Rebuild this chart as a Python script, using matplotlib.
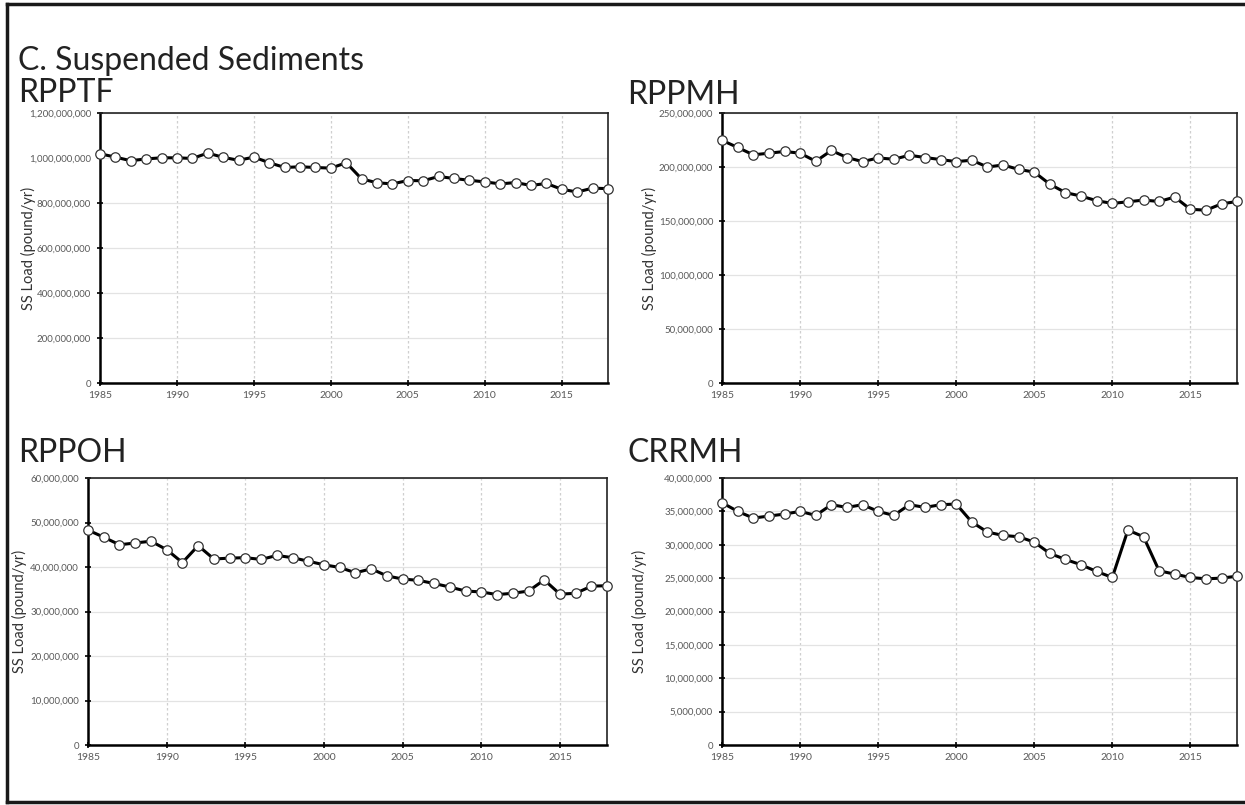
import matplotlib
matplotlib.use("Agg")
import matplotlib.pyplot as plt
from matplotlib.lines import Line2D
from matplotlib.ticker import FuncFormatter

plt.rcParams['font.family'] = ['Lato', 'DejaVu Sans']

years = list(range(1985, 2019))

rpptf = [1.019e9, 1.004e9, 0.988e9, 0.996e9, 1.001e9, 1.001e9, 0.998e9, 1.022e9, 1.003e9, 0.990e9,
         1.004e9, 0.979e9, 0.958e9, 0.961e9, 0.958e9, 0.955e9, 0.979e9, 0.907e9, 0.890e9, 0.885e9,
         0.900e9, 0.899e9, 0.918e9, 0.909e9, 0.901e9, 0.894e9, 0.885e9, 0.891e9, 0.878e9, 0.887e9,
         0.861e9, 0.849e9, 0.866e9, 0.864e9]

rppmh = [224.7e6, 218.1e6, 211.3e6, 212.8e6, 214.4e6, 212.8e6, 205.3e6, 215.3e6, 208.8e6, 205.0e6,
         208.4e6, 207.2e6, 210.9e6, 208.8e6, 206.9e6, 205.0e6, 206.3e6, 200.0e6, 201.9e6, 197.8e6,
         195.3e6, 184.1e6, 176.3e6, 173.1e6, 168.8e6, 166.3e6, 167.8e6, 169.4e6, 168.1e6, 172.2e6,
         160.9e6, 160.0e6, 165.9e6, 168.1e6]

rppoh = [48.3e6, 46.7e6, 45.0e6, 45.4e6, 45.8e6, 43.9e6, 41.0e6, 44.8e6, 41.8e6, 42.0e6,
         42.1e6, 41.7e6, 42.6e6, 42.1e6, 41.3e6, 40.5e6, 39.9e6, 38.7e6, 39.6e6, 38.0e6,
         37.3e6, 37.0e6, 36.3e6, 35.5e6, 34.6e6, 34.4e6, 33.8e6, 34.1e6, 34.6e6, 37.1e6,
         33.9e6, 34.1e6, 35.7e6, 35.8e6]

crrmh = [36.3e6, 35.0e6, 34.0e6, 34.3e6, 34.6e6, 35.0e6, 34.4e6, 36.0e6, 35.6e6, 36.0e6,
         35.0e6, 34.4e6, 36.0e6, 35.6e6, 36.0e6, 36.1e6, 33.4e6, 31.9e6, 31.4e6, 31.2e6,
         30.4e6, 28.7e6, 27.8e6, 27.0e6, 26.0e6, 25.1e6, 32.2e6, 31.2e6, 26.1e6, 25.6e6,
         25.1e6, 24.9e6, 25.0e6, 25.3e6]

# name, values, y max, y step, axes rect, title pos, ylabel x
panels = [
    ("RPPTF", rpptf, 1.2e9, 2e8, [0.0803, 0.5242, 0.408, 0.3354], (0.0145, 0.873), 0.0225),
    ("RPPMH", rppmh, 250e6, 50e6, [0.580, 0.5242, 0.4137, 0.3354], (0.504, 0.871), 0.522),
    ("RPPOH", rppoh, 60e6, 10e6, [0.0707, 0.0745, 0.417, 0.3317], (0.0145, 0.426), 0.016),
    ("CRRMH", crrmh, 40e6, 5e6, [0.580, 0.0745, 0.4137, 0.3317], (0.504, 0.426), 0.514),
]

fig = plt.figure(figsize=(12.45, 8.05), dpi=100)

fig.text(0.0145, 0.913, "C. Suspended Sediments", fontsize=23, color='#222222', va='baseline')

for name, vals, ymax, ystep, rect, tpos, ylx in panels:
    ax = fig.add_axes(rect)
    ax.plot(years, vals, color='black', lw=2.2, marker='o', markersize=6.8,
            markerfacecolor='white', markeredgecolor='#333333', markeredgewidth=0.9,
            clip_on=False, zorder=3)
    ax.set_xlim(1985, 2018)
    ax.set_ylim(0, ymax)
    yt = [i * ystep for i in range(int(round(ymax / ystep)) + 1)]
    ax.set_yticks(yt)
    ax.set_xticks(list(range(1985, 2019, 5)))
    ax.yaxis.set_major_formatter(FuncFormatter(lambda v, p: f"{v:,.0f}"))
    ax.grid(axis='y', color='#e3e3e3', lw=0.9)
    ax.grid(axis='x', color='#cfcfcf', lw=0.9, linestyle=(0, (2, 2)))
    ax.set_axisbelow(True)
    for s in ['top', 'right']:
        ax.spines[s].set_linewidth(1.2)
        ax.spines[s].set_color('#222222')
    for s in ['left', 'bottom']:
        ax.spines[s].set_linewidth(1.8)
        ax.spines[s].set_color('black')
    ax.tick_params(axis='both', direction='inout', length=5, width=1.2, color='black',
                   labelsize=7, labelcolor='#595959', pad=3)
    ax.tick_params(axis='x', labelsize=7.5)
    ax.tick_params(axis='y', pad=4)
    fig.text(tpos[0], tpos[1], name, fontsize=23, color='#222222', va='baseline')
    fig.text(ylx, rect[1] + rect[3] / 2, "SS Load (pound/yr)", rotation=90,
             fontsize=10.5, color='#333333', va='center', ha='center')

# outer frame of the figure (cut off on the right)
lkw = dict(color='#1a1a1a', lw=2.5, transform=fig.transFigure)
fig.add_artist(Line2D([0.0058, 0.0058], [0.004, 0.995], **lkw))
fig.add_artist(Line2D([0.0058, 1.0], [0.995, 0.995], **lkw))
fig.add_artist(Line2D([0.0058, 1.0], [0.004, 0.004], **lkw))

fig.savefig("out.png", dpi=100, facecolor='white')
